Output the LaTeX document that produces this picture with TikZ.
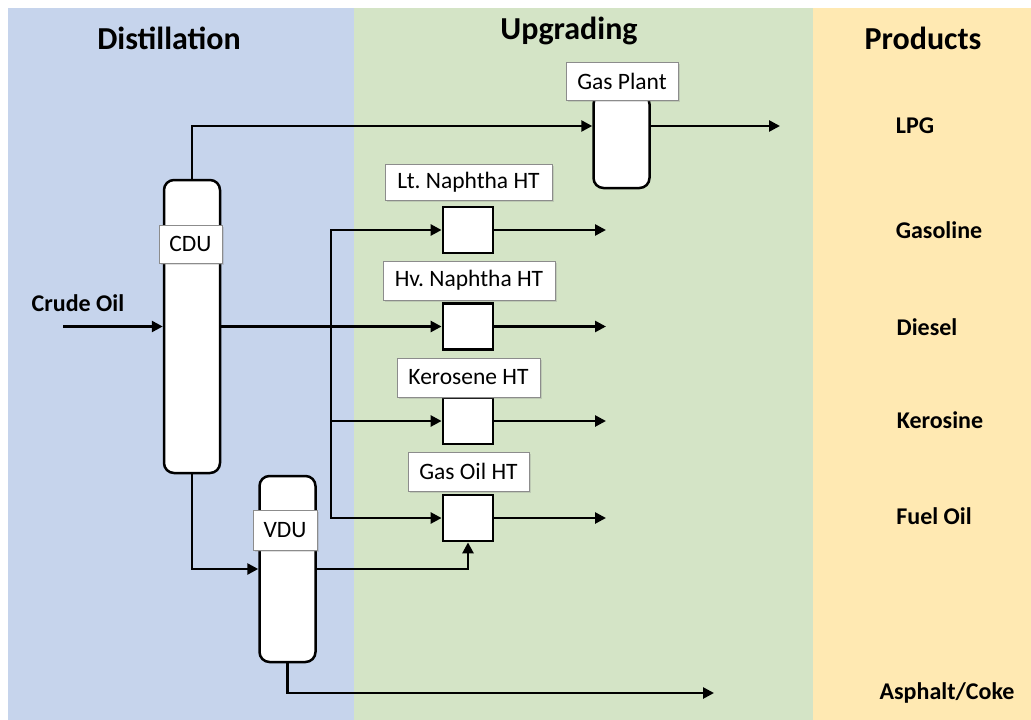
\documentclass[tikz,border=0pt]{standalone}
\usepackage{fontspec}
\setmainfont{Carlito}
\frenchspacing
\usetikzlibrary{arrows.meta,shadows}
\definecolor{pblue}{HTML}{C6D4EC}
\definecolor{pgreen}{HTML}{D4E4C6}
\definecolor{pyellow}{HTML}{FFE9B2}
\tikzset{
  title/.style={font=\fontsize{32}{34}\selectfont\bfseries, inner sep=0pt},
  prod/.style={font=\fontsize{24}{26}\selectfont\bfseries, inner sep=0pt},
  column/.style={draw=black, line width=2.5pt, fill=white, rounded corners=10pt, minimum width=56pt, inner sep=0pt},
  htbox/.style={draw=black, line width=2.8pt, fill=white, minimum width=50pt, minimum height=46pt, inner sep=0pt},
  lbl/.style={draw=black!45, line width=0.8pt, fill=white, inner sep=0pt,
    font=\fontsize{23.5}{25}\selectfont,
    drop shadow={opacity=0.25, shadow xshift=2pt, shadow yshift=-2pt}},
  pipe/.style={line width=2.6pt, black},
  arr/.style={pipe, -{Triangle[length=11pt, width=11pt]}},
}
\begin{document}
\begin{tikzpicture}[x=1pt, y=-1pt]
\useasboundingbox (0,0) rectangle (1031,720);
% panels
\fill[pblue] (8,8) rectangle (354,720);
\fill[pgreen] (354,8) rectangle (813,720);
\fill[pyellow] (813,8) rectangle (1031,720);
% titles
\node[title] (tdist) at (169,38) {Distillation};
\node[title] (tupg) at (569,31) {Upgrading};
\node[title] (tprod) at (923,38) {Products};
% product labels
\node[prod] (lpg) at (915,126) {LPG};
\node[prod] (gasoline) at (939,230) {Gasoline};
\node[prod] (diesel) at (927,327) {Diesel};
\node[prod] (kerosine) at (940,420) {Kerosine};
\node[prod] (fueloil) at (934,516) {Fuel Oil};
\node[prod] (asph) at (947,693) {Asphalt/Coke};
\node[prod] (crude) at (78,303) {Crude Oil};
% columns
\node[column, minimum height=293pt] (cdu) at (192,326.5) {};
\node[column, minimum height=94pt] (gp) at (621.5,141) {};
\node[column, minimum height=186pt] (vdu) at (287.5,569) {};
% hydrotreaters
\node[htbox] (lt) at (468,230) {};
\node[htbox] (hv) at (468,326.5) {};
\node[htbox] (ke) at (468,421) {};
\node[htbox] (go) at (468,518) {};
% free end coordinates
\coordinate (crin) at (63,326.5);
\coordinate (jx) at (331,326.5);
\coordinate (outx) at (606,0);
\coordinate (lpgend) at (780,126);
\coordinate (aend) at (714,693);
% connectors
\draw[arr] (crin) -- (cdu.west);
\draw[arr] (cdu.north) |- (gp.west |- lpg);
\draw[arr] (gp.east |- lpg) -- (lpgend);
\draw[arr] (cdu.east) -- (hv.west);
\draw[arr] (jx) |- (lt.west);
\draw[arr] (jx) |- (ke.west);
\draw[arr] (jx) |- (go.west);
\draw[arr] (lt.east) -- (lt.east -| outx);
\draw[arr] (hv.east) -- (hv.east -| outx);
\draw[arr] (ke.east) -- (ke.east -| outx);
\draw[arr] (go.east) -- (go.east -| outx);
\draw[arr] (cdu.south) |- (vdu.west);
\draw[arr] (vdu.east) -| (go.south);
\draw[arr] (vdu.south) |- (aend);
% label boxes
\node[lbl, minimum width=63pt, minimum height=38pt] (lcdu) at (190.5,244) {CDU};
\node[lbl, minimum width=64pt, minimum height=40pt] (lvdu) at (285,530) {VDU};
\node[lbl, minimum width=112pt, minimum height=38pt] (lgp) at (622,81) {Gas Plant};
\node[lbl, minimum width=167pt, minimum height=36pt] (llt) at (468.5,182) {Lt. Naphtha HT};
\node[lbl, minimum width=172pt, minimum height=39pt] (lhv) at (469,280.5) {Hv. Naphtha HT};
\node[lbl, minimum width=143pt, minimum height=39pt] (lke) at (468.5,377.5) {Kerosene HT};
\node[lbl, minimum width=121pt, minimum height=39pt] (lgo) at (468.5,471.5) {Gas Oil HT};
\end{tikzpicture}
\end{document}
